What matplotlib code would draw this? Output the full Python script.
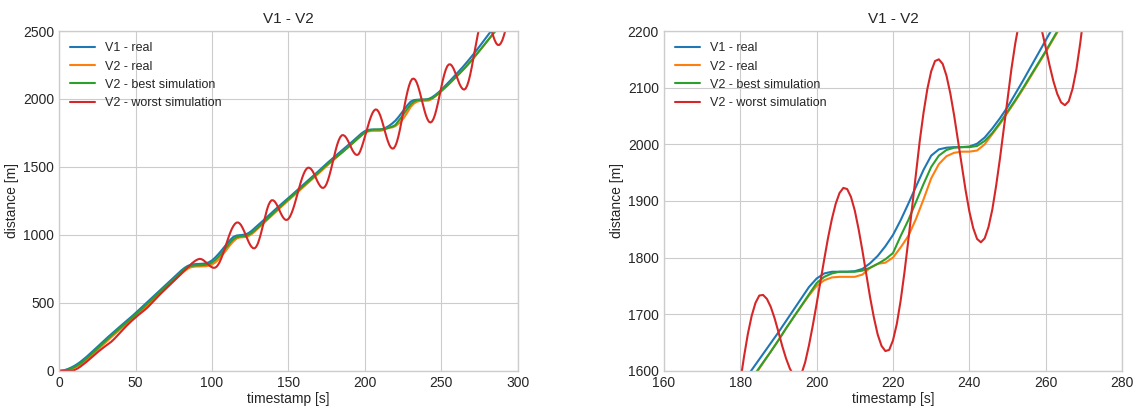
import numpy as np
import matplotlib
matplotlib.use("Agg")
import matplotlib.pyplot as plt

# timestamps [s]
t = np.arange(0, 291, 2)
t_worst = np.concatenate([np.arange(0, 84, 2), np.arange(84, 296)])

# distance [m]
v1_real = [
    0, 2, 7, 15, 25, 37, 51, 67, 85, 104,
    124, 145, 166, 187, 208, 229, 249, 269, 289, 309,
    328, 347, 366, 385, 405, 425, 446, 467, 488, 509,
    530, 551, 572, 593, 614, 635, 656, 677, 698, 719,
    739, 757, 771, 780, 784, 786, 787, 788, 791, 799,
    812, 832, 856, 882, 910, 938, 964, 985, 995, 998,
    1000, 1004, 1014, 1030, 1050, 1070, 1090, 1110, 1131, 1152,
    1173, 1193, 1213, 1233, 1252, 1271, 1291, 1311, 1331, 1351,
    1371, 1391, 1411, 1431, 1451, 1472, 1493, 1514, 1534, 1554,
    1573, 1592, 1611, 1630, 1649, 1668, 1688, 1708, 1728, 1748,
    1763, 1772, 1775, 1775, 1775, 1776, 1780, 1790, 1803, 1820,
    1840, 1866, 1895, 1925, 1955, 1980, 1991, 1994, 1995, 1995,
    1996, 2001, 2012, 2028, 2046, 2066, 2089, 2112, 2136, 2160,
    2184, 2208, 2233, 2259, 2286, 2313, 2341, 2370, 2400, 2430,
    2460, 2490, 2520, 2550, 2580, 2610,
]

v2_real = [
    0, 0, 2, 6, 13, 22, 34, 48, 64, 82,
    101, 121, 142, 163, 184, 205, 226, 246, 266, 286,
    306, 325, 344, 363, 382, 402, 422, 443, 464, 485,
    506, 527, 548, 569, 590, 611, 632, 653, 674, 695,
    715, 734, 750, 761, 766, 768, 768, 769, 770, 774,
    782, 796, 815, 840, 868, 898, 927, 952, 972, 981,
    983, 985, 992, 1006, 1025, 1046, 1067, 1088, 1109, 1130,
    1151, 1172, 1193, 1213, 1233, 1253, 1273, 1293, 1313, 1333,
    1353, 1373, 1393, 1413, 1433, 1454, 1475, 1496, 1516, 1536,
    1556, 1575, 1594, 1614, 1634, 1654, 1675, 1695, 1714, 1733,
    1750, 1760, 1765, 1766, 1766, 1766, 1770, 1782, 1789, 1791,
    1800, 1818, 1838, 1868, 1903, 1940, 1965, 1979, 1985, 1987,
    1987, 1989, 2000, 2018, 2036, 2056, 2076, 2097, 2119, 2141,
    2163, 2186, 2209, 2233, 2258, 2284, 2311, 2338, 2366, 2394,
    2422, 2450, 2478, 2506, 2534, 2562,
]

v2_best = [
    0, 1, 4, 10, 18, 28, 41, 56, 73, 92,
    112, 133, 154, 175, 196, 217, 238, 258, 278, 298,
    317, 336, 355, 374, 394, 414, 434, 455, 476, 497,
    518, 539, 560, 581, 602, 623, 644, 665, 686, 707,
    727, 746, 762, 771, 775, 776, 777, 778, 780, 786,
    797, 814, 836, 861, 888, 917, 945, 968, 983, 989,
    991, 994, 1002, 1016, 1034, 1054, 1075, 1096, 1117, 1138,
    1159, 1180, 1201, 1222, 1242, 1262, 1282, 1302, 1322, 1342,
    1362, 1382, 1402, 1422, 1442, 1463, 1484, 1505, 1525, 1542,
    1560, 1578, 1596, 1615, 1634, 1654, 1675, 1695, 1715, 1735,
    1755, 1766, 1772, 1775, 1775, 1775, 1777, 1782, 1789, 1797,
    1808, 1838, 1866, 1898, 1930, 1960, 1980, 1990, 1994, 1995,
    1995, 1997, 2006, 2020, 2038, 2058, 2078, 2099, 2121, 2143,
    2165, 2188, 2211, 2235, 2260, 2286, 2313, 2340, 2368, 2396,
    2424, 2452, 2480, 2508, 2536, 2564,
]

v2_worst = [
    # 0 .. 82 every 2 s
    0, 0, 0, 0, 1, 6, 17, 32, 49, 67,
    86, 106, 126, 145, 163, 180, 196, 213, 234, 258,
    283, 307, 330, 352, 373, 393, 412, 430, 448, 468,
    491, 515, 539, 562, 584, 606, 628, 650, 672, 694,
    716, 738,
    # 84 .. 295 every 1 s
    760, 771, 782, 792, 801, 809,
    816, 821, 824, 822, 817, 809, 799, 788, 778, 769,
    762, 758, 759, 766, 780, 799, 824, 854, 886, 920,
    954, 987, 1017, 1044, 1065, 1081, 1090, 1092, 1086, 1073,
    1053, 1029, 1002, 975, 949, 927, 911, 902, 902, 913,
    935, 968, 1008, 1053, 1100, 1145, 1185, 1219, 1242, 1255,
    1255, 1247, 1231, 1210, 1185, 1161, 1139, 1122, 1112, 1110,
    1117, 1133, 1157, 1187, 1222, 1262, 1302, 1344, 1383, 1418,
    1448, 1472, 1488, 1495, 1493, 1483, 1467, 1445, 1420, 1395,
    1374, 1357, 1347, 1346, 1355, 1375, 1405, 1443, 1486, 1533,
    1580, 1625, 1665, 1697, 1720, 1733, 1734, 1727, 1713, 1693,
    1669, 1644, 1622, 1604, 1592, 1588, 1594, 1615, 1645, 1680,
    1718, 1758, 1797, 1835, 1868, 1895, 1914, 1923, 1921, 1907,
    1883, 1850, 1812, 1771, 1730, 1694, 1664, 1644, 1635, 1637,
    1654, 1683, 1724, 1774, 1830, 1889, 1949, 2006, 2056, 2098,
    2129, 2147, 2150, 2142, 2121, 2090, 2051, 2007, 1962, 1919,
    1881, 1852, 1833, 1827, 1834, 1854, 1885, 1927, 1975, 2028,
    2082, 2133, 2178, 2215, 2241, 2254, 2255, 2245, 2226, 2200,
    2170, 2139, 2111, 2089, 2074, 2069, 2076, 2098, 2132, 2178,
    2232, 2292, 2355, 2417, 2475, 2526, 2566, 2594, 2609, 2608,
    2596, 2572, 2540, 2503, 2466, 2434, 2410, 2398, 2397, 2409,
    2431, 2464, 2503, 2548, 2596, 2646,
]

plt.style.use("seaborn-v0_8-whitegrid")
fig, axes = plt.subplots(1, 2, figsize=(11.37, 4.08), dpi=100)
fig.subplots_adjust(left=0.052, right=0.987, top=0.924, bottom=0.091, wspace=0.319)

for ax in axes:
    ax.plot(t, v1_real, label="V1 - real")
    ax.plot(t, v2_real, label="V2 - real")
    ax.plot(t, v2_best, label="V2 - best simulation")
    ax.plot(t_worst, v2_worst, label="V2 - worst simulation")
    ax.set_title("V1 - V2", fontsize=11)
    ax.set_xlabel("timestamp [s]", labelpad=1.5)
    ax.set_ylabel("distance [m]", labelpad=3)
    ax.legend(loc="upper left", fontsize=9)

axes[0].set_xlim(0, 300)
axes[0].set_ylim(0, 2500)
axes[1].set_xlim(160, 280)
axes[1].set_ylim(1600, 2200)

plt.savefig("out.png")
